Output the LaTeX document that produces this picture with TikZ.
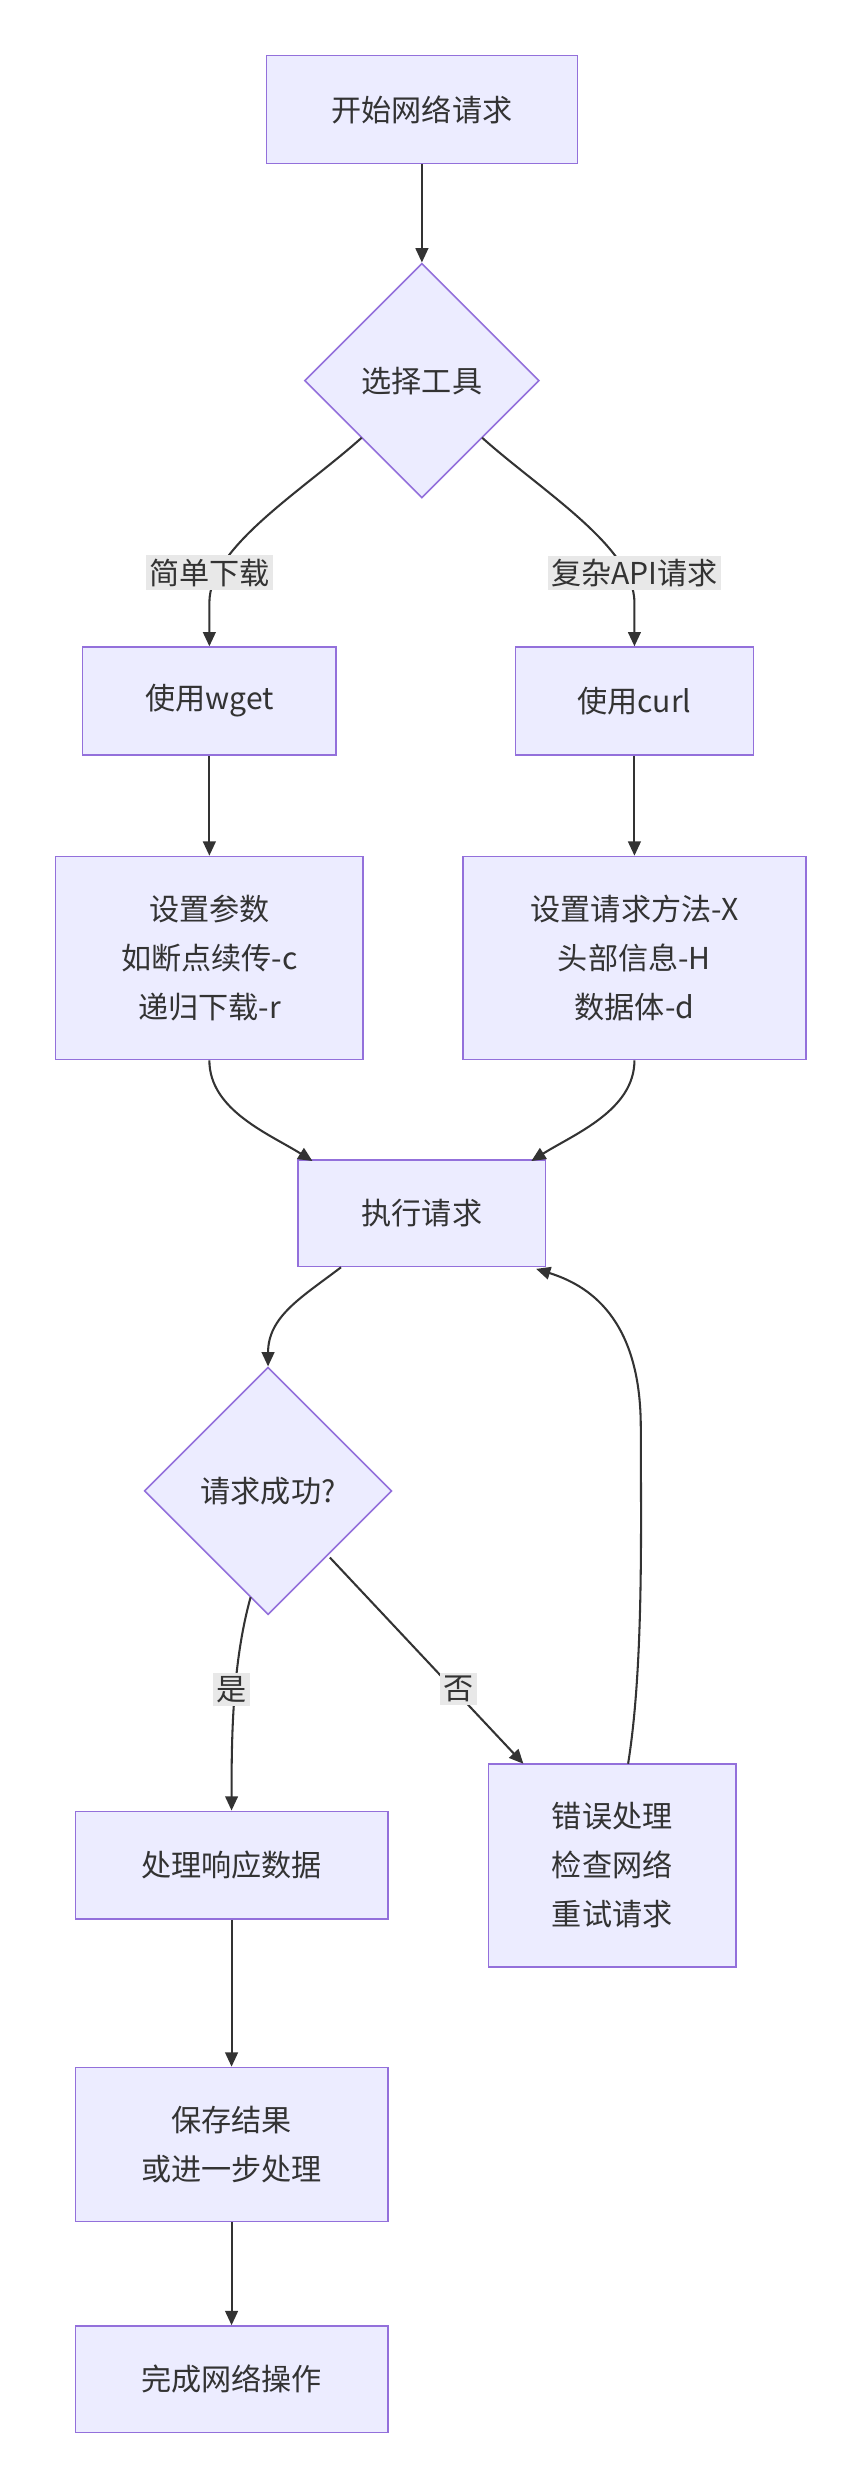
\documentclass[tikz,border=0pt]{standalone}
\usepackage{fontspec}
\setmainfont{Noto Sans CJK SC}
\usetikzlibrary{arrows.meta,shapes.geometric}
\definecolor{nf}{HTML}{ECECFF}
\definecolor{ns}{HTML}{9370DB}
\definecolor{ed}{HTML}{333333}
\definecolor{lb}{HTML}{E8E8E8}
\begin{document}
\begin{tikzpicture}[x=1pt,y=-1pt,
  box/.style={draw=ns,fill=nf,line width=1pt,align=center,inner sep=0pt,font=\fontsize{19}{31}\selectfont,text=ed},
  dia/.style={draw=ns,fill=nf,line width=1pt,diamond,inner sep=0pt,minimum width=#1,minimum height=#1,font=\fontsize{19}{31}\selectfont,text=ed},
  e/.style={draw=ed,line width=1.3pt,-{Triangle[length=9pt,width=8pt]}},
  lab/.style={fill=lb,inner sep=2pt,font=\fontsize{19}{24}\selectfont,text=ed}]
\useasboundingbox (0,0) rectangle (542,1568);
\node[box,minimum width=196,minimum height=68] (s) at (266,69) {开始网络请求};
\node[dia=148] (t) at (266,240) {选择工具};
\node[box,minimum width=160,minimum height=68] (w) at (132,442) {使用wget};
\node[box,minimum width=150,minimum height=68] (c) at (400,442) {使用curl};
\node[box,minimum width=194,minimum height=128] (p) at (132,604) {设置参数\\如断点续传-c\\递归下载-r};
\node[box,minimum width=216,minimum height=128] (q) at (400,604) {设置请求方法-X\\头部信息-H\\数据体-d};
\node[box,minimum width=156,minimum height=67] (x) at (266,765) {执行请求};
\node[dia=156] (k) at (169,940) {请求成功?};
\node[box,minimum width=197,minimum height=68] (r) at (146,1176) {处理响应数据};
\node[box,minimum width=156,minimum height=128] (er) at (386,1176) {错误处理\\检查网络\\重试请求};
\node[box,minimum width=197,minimum height=97] (sv) at (146,1352) {保存结果\\或进一步处理};
\node[box,minimum width=197,minimum height=67] (f) at (146,1500) {完成网络操作};
\draw[e] (s) -- (t);
\draw[e] (228,276) .. controls (190,310) and (132,345) .. (132,380) -- (w.north);
\draw[e] (304,276) .. controls (342,310) and (400,345) .. (400,380) -- (c.north);
\node[lab] at (132,361) {简单下载};
\node[lab] at (400,361) {复杂API请求};
\draw[e] (w) -- (p);
\draw[e] (c) -- (q);
\draw[e] (p.south) .. controls (132,700) and (170,715) .. (197,732);
\draw[e] (q.south) .. controls (400,700) and (362,715) .. (335,732);
\draw[e] (215,799) .. controls (190,818) and (169,830) .. (k.north);
\draw[e] (158,1007) .. controls (146,1050) and (146,1100) .. (r.north);
\node[lab] at (146,1065) {是};
\draw[e] (208,982) -- (330,1112);
\node[lab] at (289,1065) {否};
\draw[e] (396,1112) .. controls (406,1050) and (404,960) .. (404,900) .. controls (404,830) and (370,810) .. (338,800);
\draw[e] (r) -- (sv);
\draw[e] (sv) -- (f);
\end{tikzpicture}
\end{document}
